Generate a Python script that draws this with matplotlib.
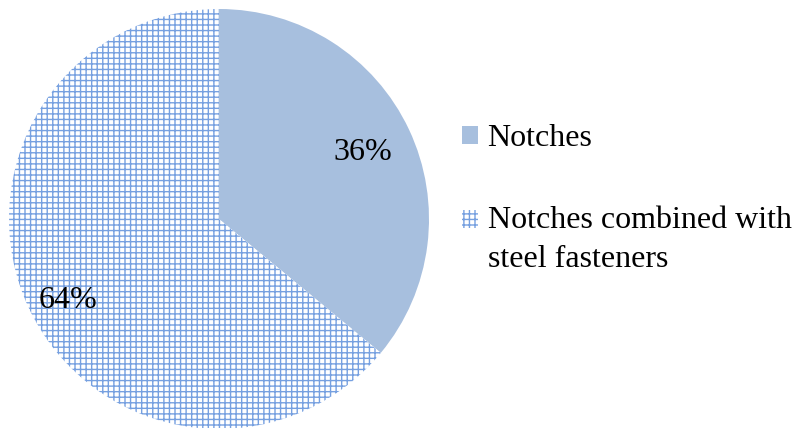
import matplotlib
matplotlib.use("Agg")
import matplotlib.pyplot as plt

categories = ["Notches", "Notches combined with\nsteel fasteners"]
values = [36, 64]
pct_labels = ["36%", "64%"]

plt.rcParams['font.family'] = ['Liberation Serif', 'DejaVu Serif']
plt.rcParams['hatch.color'] = '#76a0e0'
plt.rcParams['hatch.linewidth'] = 1.0

fig = plt.figure(figsize=(7.99, 4.28), dpi=100)
ax = fig.add_axes([9/799, -1/428, 420/799, 420/428])
wedges, _ = ax.pie(values, startangle=90, counterclock=False,
                   colors=['#a7bfde', 'white'], radius=1.0)
wedges[1].set_hatch('+++')
wedges[1].set_edgecolor('#76a0e0')
wedges[1].set_linewidth(0)
ax.set_aspect('equal')
ax.set_xlim(-1, 1)
ax.set_ylim(-1, 1)

ax.text(0.686, 0.315, pct_labels[0], fontsize=23, ha='center', va='center')
ax.text(-0.72, -0.39, pct_labels[1], fontsize=23, ha='center', va='center')

leg = fig.legend(wedges, categories, loc='upper left',
                 bbox_to_anchor=(462/799, 1 - 124/428), frameon=False,
                 borderpad=0, borderaxespad=0,
                 fontsize=23, handlelength=0.5, handleheight=0.5,
                 handletextpad=0.3, labelspacing=1.65)
for t in leg.get_texts():
    t.set_linespacing(1.45)
h = leg.legend_handles[1]
h.set_y(h.get_y() + 14.4)
plt.savefig("out.png", dpi=100)
